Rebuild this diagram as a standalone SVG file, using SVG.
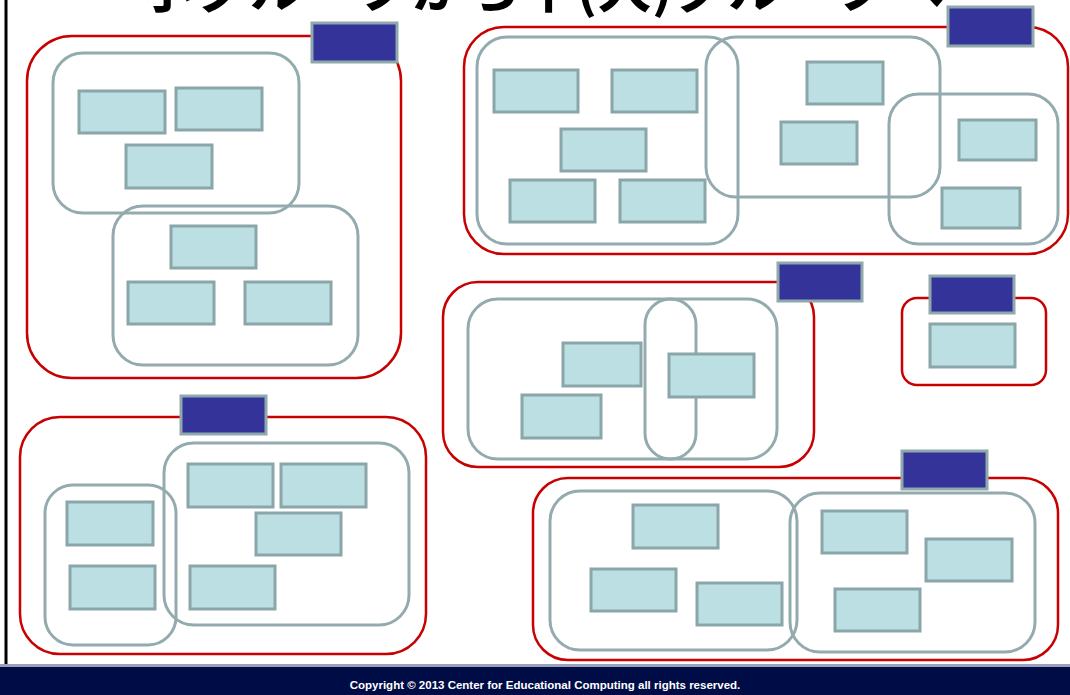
<svg xmlns="http://www.w3.org/2000/svg" width="1070" height="695" viewBox="0 0 1070 695">
<style>
.red{fill:none;stroke:#c80000;stroke-width:2.5}
.grp{fill:none;stroke:#93abae;stroke-width:3}
.box{fill:#bbdfe2;stroke:#8ba6a9;stroke-width:3}
.tag{fill:#333399;stroke:#8fa8ab;stroke-width:3}
.title{font-family:"Noto Sans CJK JP","Noto Sans CJK SC",sans-serif;font-weight:bold;font-size:55px;fill:#000}
.foot{font-family:"Liberation Sans",Arial,sans-serif;font-weight:bold;font-size:11.5px;fill:#fff}
</style>
<rect x="0" y="0" width="1070" height="695" fill="#fff"/>
<text class="title" x="542" y="7" text-anchor="middle">小グループから中(大)グループへ</text>
<line x1="6" y1="0" x2="6" y2="695" stroke="#000" stroke-width="3"/>

<g id="groupA">
<rect class="red" x="27" y="36" width="374" height="342" rx="45"/>
<rect class="grp" x="53" y="53" width="246" height="160" rx="30"/>
<rect class="grp" x="113" y="206" width="245" height="159" rx="30"/>
<rect class="box" x="79" y="91" width="86" height="42"/>
<rect class="box" x="176" y="88" width="86" height="42"/>
<rect class="box" x="126" y="145" width="86" height="43"/>
<rect class="box" x="171" y="226" width="85" height="42"/>
<rect class="box" x="128" y="282" width="86" height="42"/>
<rect class="box" x="245" y="282" width="86" height="42"/>
<rect class="tag" x="312" y="23" width="85" height="39"/>
</g>

<g id="groupB">
<rect class="red" x="464" y="27" width="604" height="227" rx="40"/>
<rect class="grp" x="477" y="37" width="261" height="207" rx="30"/>
<rect class="grp" x="706" y="37" width="234" height="160" rx="30"/>
<rect class="grp" x="889" y="94" width="169" height="150" rx="30"/>
<rect class="box" x="494" y="70" width="84" height="42"/>
<rect class="box" x="612" y="70" width="85" height="42"/>
<rect class="box" x="561" y="129" width="85" height="42"/>
<rect class="box" x="510" y="180" width="85" height="42"/>
<rect class="box" x="620" y="180" width="85" height="42"/>
<rect class="box" x="807" y="62" width="76" height="42"/>
<rect class="box" x="781" y="122" width="76" height="42"/>
<rect class="box" x="959" y="120" width="77" height="40"/>
<rect class="box" x="942" y="188" width="78" height="40"/>
<rect class="tag" x="948" y="7" width="85" height="39"/>
</g>

<g id="groupC">
<rect class="red" x="443" y="282" width="371" height="185" rx="35"/>
<rect class="grp" x="468" y="299" width="309" height="160" rx="30"/>
<rect class="grp" x="645" y="299" width="51" height="160" rx="25.5"/>
<rect class="box" x="563" y="343" width="78" height="43"/>
<rect class="box" x="522" y="395" width="79" height="43"/>
<rect class="box" x="669" y="354" width="85" height="43"/>
<rect class="tag" x="778" y="263" width="84" height="38"/>
</g>

<g id="groupD">
<rect class="red" x="902" y="298" width="144" height="87" rx="15"/>
<rect class="box" x="930" y="324" width="85" height="43"/>
<rect class="tag" x="930" y="276" width="84" height="37"/>
</g>

<g id="groupE">
<rect class="red" x="20" y="417" width="406" height="237" rx="40"/>
<rect class="grp" x="164" y="443" width="245" height="182" rx="30"/>
<rect class="grp" x="45" y="485" width="131" height="160" rx="28"/>
<rect class="box" x="188" y="464" width="85" height="43"/>
<rect class="box" x="281" y="464" width="85" height="43"/>
<rect class="box" x="256" y="513" width="85" height="42"/>
<rect class="box" x="190" y="566" width="85" height="43"/>
<rect class="box" x="67" y="502" width="86" height="43"/>
<rect class="box" x="70" y="566" width="85" height="43"/>
<rect class="tag" x="181" y="396" width="85" height="38"/>
</g>

<g id="groupF">
<rect class="red" x="533" y="478" width="525" height="182" rx="35"/>
<rect class="grp" x="550" y="491" width="247" height="159" rx="30"/>
<rect class="grp" x="790" y="493" width="245" height="159" rx="30"/>
<rect class="box" x="633" y="505" width="85" height="43"/>
<rect class="box" x="591" y="569" width="85" height="42"/>
<rect class="box" x="697" y="583" width="85" height="42"/>
<rect class="box" x="822" y="511" width="85" height="42"/>
<rect class="box" x="926" y="539" width="86" height="42"/>
<rect class="box" x="835" y="589" width="85" height="42"/>
<rect class="tag" x="902" y="451" width="85" height="38"/>
</g>

<g id="footer">
<rect x="0" y="664" width="1070" height="3" fill="#9aa0b8"/>
<rect x="0" y="667" width="1070" height="28" fill="#000c45"/>
<text class="foot" x="545" y="689" text-anchor="middle">Copyright © 2013 Center for Educational Computing all rights reserved.</text>
</g>
</svg>
